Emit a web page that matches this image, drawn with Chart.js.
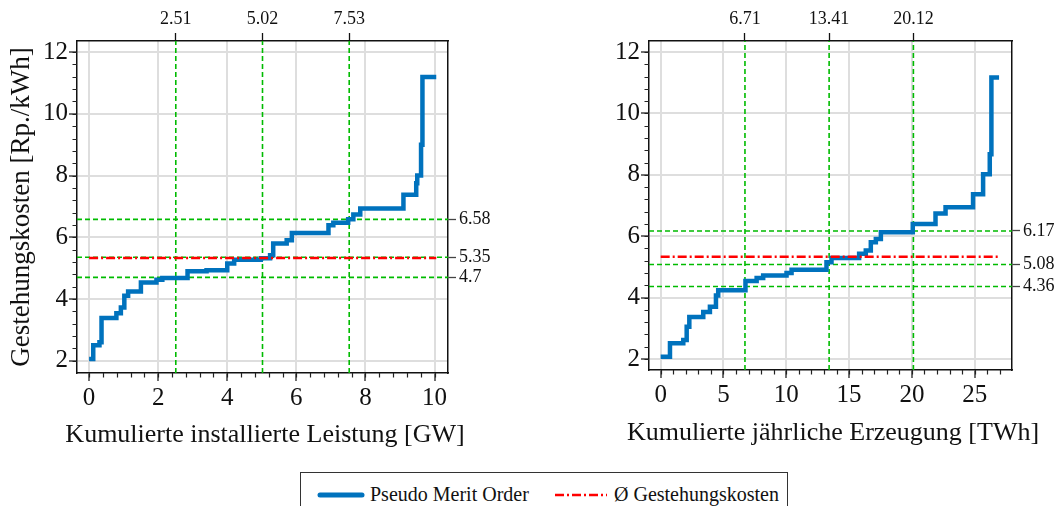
<!DOCTYPE html>
<html>
<head>
<meta charset="utf-8">
<script src="https://cdn.jsdelivr.net/npm/chart.js@4.4.0/dist/chart.umd.min.js"></script>
<style>
  body { margin: 0; background: #fff; width: 1058px; height: 506px; overflow: hidden; position: relative; font-family: "Liberation Serif", "Times New Roman", serif; color: #111; }
  canvas { position: absolute; top: 0; }
  #cap-chart { left: 0; }
  #energy-chart { left: 560px; }
  .xtitle { position: absolute; width: 500px; text-align: center; font-size: 26px; line-height: 30px; white-space: nowrap; }
  .legend { position: absolute; left: 300px; top: 472px; width: 488px; height: 44px; border: 1px solid #333; box-sizing: border-box; font-size: 20px; }
  .legend svg, .legend span { position: absolute; }
  .legend span { top: 9px; line-height: 24px; white-space: nowrap; }
</style>
</head>
<body>
<canvas id="cap-chart" width="529" height="460"></canvas>
<canvas id="energy-chart" width="498" height="460"></canvas>
<div class="xtitle" style="left:15px; top:419px">Kumulierte installierte Leistung [GW]</div>
<div class="xtitle" style="left:583px; top:417px">Kumulierte jährliche Erzeugung [TWh]</div>
<div class="legend">
  <svg style="left:16px; top:17px" width="48" height="10"><line x1="3" y1="5" x2="45" y2="5" stroke="#0072bd" stroke-width="5" stroke-linecap="round"/></svg>
  <span style="left:69px">Pseudo Merit Order</span>
  <svg style="left:252px; top:17px" width="56" height="10"><line x1="2" y1="5" x2="54" y2="5" stroke="#ff0000" stroke-width="2.5" stroke-dasharray="9 3 2 3"/></svg>
  <span style="left:313px">Ø Gestehungskosten</span>
</div>
<script>
// Pseudo Merit Order: Beginn jeder Stufe (kumuliert) und Gestehungskosten [Rp./kWh]
const capacityGW = [0, 0.12, 0.3, 0.36, 0.79, 0.92, 1.02, 1.13, 1.5, 1.95, 2.12, 2.85, 3.4, 4.0, 4.2, 4.97, 5.24, 5.33, 5.72, 5.87, 6.93, 7.07, 7.5, 7.65, 7.85, 9.1, 9.47, 9.5, 9.61, 9.65, 10.05];
const capacityCost = [2.05, 2.5, 2.6, 3.38, 3.54, 3.72, 4.1, 4.24, 4.53, 4.62, 4.68, 4.9, 4.93, 5.15, 5.27, 5.32, 5.42, 5.8, 5.9, 6.14, 6.39, 6.47, 6.58, 6.74, 6.93, 7.38, 7.75, 8.0, 9.0, 11.19, 11.19];

const energyTWh = [0, 0.74, 1.8, 2.07, 2.28, 3.39, 3.92, 4.4, 4.58, 6.75, 7.64, 8.16, 10.02, 10.42, 13.2, 13.6, 15.8, 16.33, 16.73, 17.13, 17.53, 20.07, 21.88, 22.68, 24.87, 25.67, 26.2, 26.33, 26.94];
const energyCost = [2.07, 2.51, 2.62, 3.05, 3.37, 3.53, 3.7, 4.07, 4.24, 4.54, 4.64, 4.72, 4.8, 4.91, 5.15, 5.29, 5.43, 5.53, 5.8, 5.91, 6.13, 6.4, 6.74, 6.94, 7.37, 8.02, 8.67, 11.17, 11.17];

// mittlere Gestehungskosten
const meanCost = 5.33;

// Quartile (oben und rechts beschriftet)
const capQuartilesX = [2.51, 5.02, 7.53];
const capQuartilesY = [4.7, 5.35, 6.58];
const energyQuartilesX = [6.71, 13.41, 20.12];
const energyQuartilesY = [4.36, 5.08, 6.17];

// Achsenbeschriftungen
const capTicks = [0, 2, 4, 6, 8, 10];
const energyTicks = [0, 5, 10, 15, 20, 25];
const costTicks = [2, 4, 6, 8, 10, 12];

Chart.defaults.font.family = '"Liberation Serif", "Times New Roman", serif';
Chart.defaults.color = '#111';

// kleine Zwischenstriche an der x- und y-Achse
const minorTicks = {
    id: 'minorTicks',
    afterDraw(chart, args, opts) {
        const ctx = chart.ctx;
        const xs = chart.scales.x;
        const ys = chart.scales.y;
        const area = chart.chartArea;
        ctx.save();
        ctx.strokeStyle = '#222';
        ctx.lineWidth = 1.2;
        ctx.beginPath();
        for (let i = 0; opts.xStart + i * opts.xStep <= xs.max + 1e-9; i++) {
            const px = Math.round(xs.getPixelForValue(opts.xStart + i * opts.xStep)) + 0.5;
            ctx.moveTo(px, area.bottom);
            ctx.lineTo(px, area.bottom + 4.5);
        }
        for (let i = 0; opts.yStart + i * opts.yStep <= ys.max + 1e-9; i++) {
            const py = Math.round(ys.getPixelForValue(opts.yStart + i * opts.yStep)) + 0.5;
            ctx.moveTo(area.left, py);
            ctx.lineTo(area.left - 4.5, py);
        }
        ctx.stroke();
        ctx.restore();
    }
};

function makeChart(id, cfg) {
    const xs = cfg.xData, ys = cfg.yData;
    const datasets = [];

    datasets.push({
        data: [{x: xs[0], y: meanCost}, {x: xs[xs.length - 1], y: meanCost}],
        borderColor: '#ff0000', borderWidth: 2.5, borderDash: [9, 3, 2, 3],
        pointRadius: 0, order: 0
    });
    datasets.push({
        data: xs.map((x, i) => ({x: x, y: ys[i]})),
        borderColor: '#0072bd', borderWidth: 4.5, stepped: true,
        pointRadius: 0, order: 1
    });
    cfg.qx.forEach(q => datasets.push({
        data: [{x: q, y: cfg.yMin}, {x: q, y: cfg.yMax}],
        borderColor: '#00bb00', borderWidth: 1.6, borderDash: [5, 3],
        pointRadius: 0, order: 2
    }));
    cfg.qy.forEach(q => datasets.push({
        data: [{x: cfg.xMin, y: q}, {x: cfg.xMax, y: q}],
        borderColor: '#00bb00', borderWidth: 1.6, borderDash: [5, 3],
        pointRadius: 0, order: 2
    }));

    const tickFont = {size: 25};
    const labelFont = {size: 18};

    return new Chart(document.getElementById(id), {
        type: 'line',
        data: {datasets: datasets},
        options: {
            responsive: false,
            animation: false,
            events: [],
            layout: {padding: 0},
            plugins: {
                legend: {display: false},
                tooltip: {enabled: false},
                minorTicks: {xStart: 0, xStep: cfg.xMinorStep, yStart: 2, yStep: 0.4}
            },
            scales: {
                x: {
                    type: 'linear', position: 'bottom', min: cfg.xMin, max: cfg.xMax,
                    afterBuildTicks: s => { s.ticks = cfg.xTicks.map(v => ({value: v})); },
                    afterFit: s => { s.height = cfg.bottomH; },
                    ticks: {autoSkip: false, maxRotation: 0, padding: 2, font: tickFont, callback: v => String(v)},
                    grid: {color: '#dedede', lineWidth: 2, tickColor: '#222', tickLength: 8, tickWidth: 1.3},
                    border: {color: '#111', width: 1.5}
                },
                x2: {
                    type: 'linear', position: 'top', min: cfg.xMin, max: cfg.xMax,
                    afterBuildTicks: s => { s.ticks = cfg.qx.map(v => ({value: v})); },
                    afterFit: s => { s.height = 41; },
                    ticks: {autoSkip: false, maxRotation: 0, padding: 3, font: labelFont, callback: v => String(v)},
                    grid: {drawOnChartArea: false, tickColor: '#111', tickLength: 8, tickWidth: 1.3},
                    border: {color: '#111', width: 1.5}
                },
                y: {
                    type: 'linear', position: 'left', min: cfg.yMin, max: cfg.yMax,
                    afterBuildTicks: s => { s.ticks = costTicks.map(v => ({value: v})); },
                    afterFit: s => { s.width = cfg.leftW; },
                    ticks: {autoSkip: false, padding: 1, font: tickFont, callback: v => String(v)},
                    grid: {color: '#dedede', lineWidth: 2, tickColor: '#222', tickLength: 8, tickWidth: 1.3},
                    border: {color: '#111', width: 1.5},
                    title: {display: !!cfg.yTitle, text: cfg.yTitle || '', font: {size: 27}, padding: {top: 6, bottom: 0}}
                },
                y2: {
                    type: 'linear', position: 'right', min: cfg.yMin, max: cfg.yMax,
                    afterBuildTicks: s => { s.ticks = cfg.qy.map(v => ({value: v})); },
                    afterFit: s => { s.width = cfg.rightW; },
                    ticks: {autoSkip: false, padding: 3, font: labelFont, callback: v => String(v)},
                    grid: {drawOnChartArea: false, tickColor: '#444', tickLength: 8, tickWidth: 1.3},
                    border: {color: '#111', width: 1.5}
                }
            }
        },
        plugins: [minorTicks]
    });
}

document.addEventListener('DOMContentLoaded', function() {
    makeChart('cap-chart', {
        xData: capacityGW, yData: capacityCost,
        qx: capQuartilesX, qy: capQuartilesY,
        xTicks: capTicks, xMinorStep: 0.4,
        xMin: -0.35, xMax: 10.39, yMin: 1.6, yMax: 12.36,
        leftW: 77, rightW: 81, bottomH: 87,
        yTitle: 'Gestehungskosten [Rp./kWh]'
    });
    makeChart('energy-chart', {
        xData: energyTWh, yData: energyCost,
        qx: energyQuartilesX, qy: energyQuartilesY,
        xTicks: energyTicks, xMinorStep: 1,
        xMin: -0.93, xMax: 27.97, yMin: 1.64, yMax: 12.36,
        leftW: 89, rightW: 46, bottomH: 90
    });
});
</script>
</body>
</html>
